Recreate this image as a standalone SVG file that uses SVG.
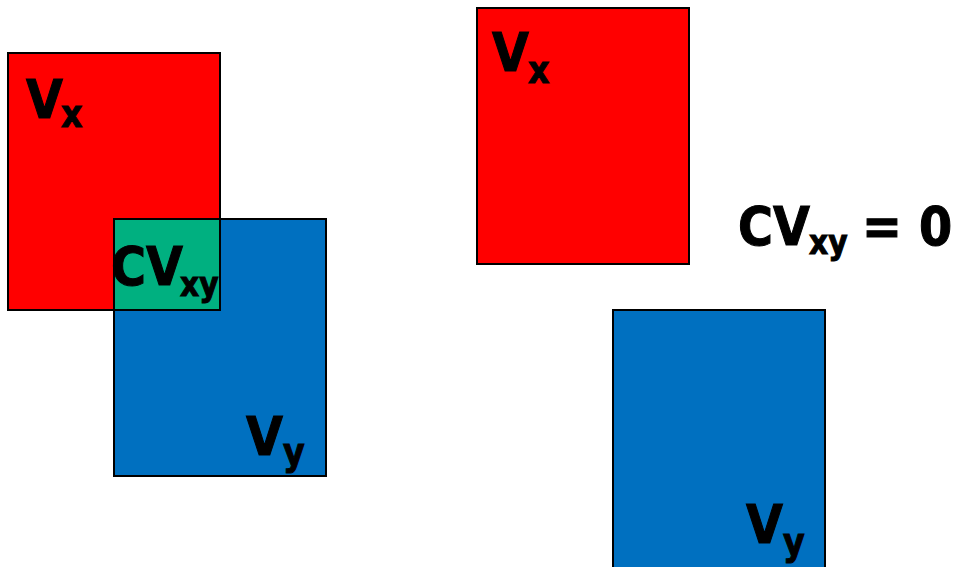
<svg xmlns="http://www.w3.org/2000/svg" width="959" height="567" viewBox="0 0 959 567">
<style>
.box{stroke:#000;stroke-width:2}
.red{fill:#ff0000}
.blue{fill:#0070c0}
.green{fill:#00b080}
text{font-family:"DejaVu Sans","Verdana",sans-serif;font-weight:bold;fill:#000;stroke:#000;stroke-width:1;font-size:53px;font-stretch:condensed}
.sub{font-size:37px}
.sub2{font-size:33px}
</style>
<rect width="959" height="567" fill="#fff"/>
<g id="left-vx">
<rect class="box red" x="8" y="53" width="212" height="257"/>
<text x="26" y="118">V<tspan class="sub" x="61" y="127">x</tspan></text>
</g>
<g id="left-vy">
<rect class="box blue" x="114" y="219" width="212" height="257"/>
<text x="246" y="455">V<tspan class="sub" x="283" y="465">y</tspan></text>
</g>
<g id="left-cvxy">
<rect class="box green" x="114" y="219" width="106" height="91"/>
<text x="111" y="285">CV<tspan class="sub2" x="180" y="296">xy</tspan></text>
</g>
<g id="right-vx">
<rect class="box red" x="477" y="8" width="212" height="256"/>
<text x="492" y="71">V<tspan class="sub" x="528" y="83">x</tspan></text>
</g>
<g id="right-vy">
<rect class="box blue" x="613" y="310" width="212" height="262"/>
<text x="746" y="543">V<tspan class="sub" x="783" y="555">y</tspan></text>
</g>
<g id="right-label">
<text x="738" y="245">CV<tspan class="sub2" x="809" y="254">xy</tspan><tspan x="862" y="245">=</tspan><tspan x="919" y="245">0</tspan></text>
</g>
<g id="connectors"/>
</svg>
